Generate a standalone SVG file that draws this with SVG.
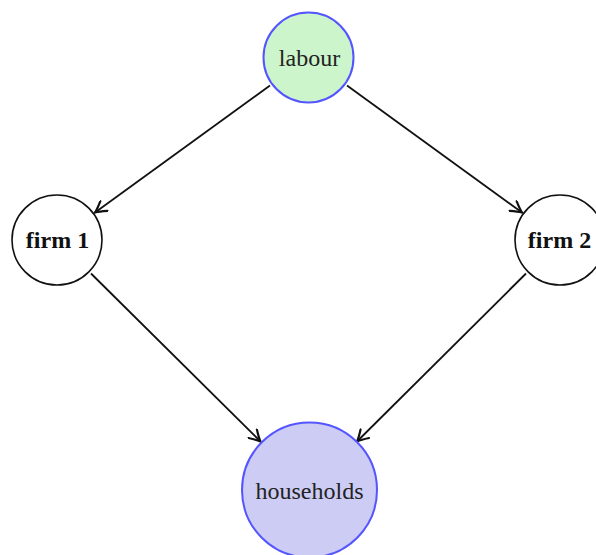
<svg xmlns="http://www.w3.org/2000/svg" width="596" height="555" viewBox="0 0 596 555">
<style>
.lbl{font-family:"Liberation Serif","Times New Roman",serif;font-size:24px;fill:#222;text-anchor:middle;dominant-baseline:central}
.b{font-weight:bold;fill:#111}
.edge{stroke:#111;stroke-width:1.8;fill:none}
.plain{fill:#fff;stroke:#111;stroke-width:1.6}
.blue{stroke:#5555ff;stroke-width:2}
</style>
<defs>
<marker id="arr" markerUnits="userSpaceOnUse" markerWidth="16" markerHeight="14" viewBox="-13 -7 16 14" refX="0" refY="0" orient="auto">
<path d="M -11 -6 Q -4 -1.5 0 0 Q -4 1.5 -11 6" fill="none" stroke="#111" stroke-width="2.2" stroke-linecap="round"/>
</marker>
</defs>
<rect width="596" height="555" fill="#fff"/>
<g id="connectors">
<line class="edge" x1="270" y1="85.4" x2="95" y2="212.5" marker-end="url(#arr)"/>
<line class="edge" x1="347" y1="85.4" x2="522" y2="212.5" marker-end="url(#arr)"/>
<line class="edge" x1="91" y1="273.5" x2="260.5" y2="441.5" marker-end="url(#arr)"/>
<line class="edge" x1="526" y1="273.5" x2="357" y2="441.5" marker-end="url(#arr)"/>
</g>
<g id="labour">
<circle cx="308.5" cy="57.5" r="45" fill="#ccf5cc" class="blue"/>
<text class="lbl" x="309.5" y="58">labour</text>
</g>
<g id="firm1">
<circle cx="57" cy="240" r="45" class="plain"/>
<text class="lbl b" x="57.5" y="240">firm 1</text>
</g>
<g id="firm2">
<circle cx="560" cy="240" r="45" class="plain"/>
<text class="lbl b" x="559.5" y="240">firm 2</text>
</g>
<g id="households">
<circle cx="309.5" cy="490" r="67.5" fill="#ccccf5" class="blue"/>
<text class="lbl" x="309.5" y="491">households</text>
</g>
</svg>
